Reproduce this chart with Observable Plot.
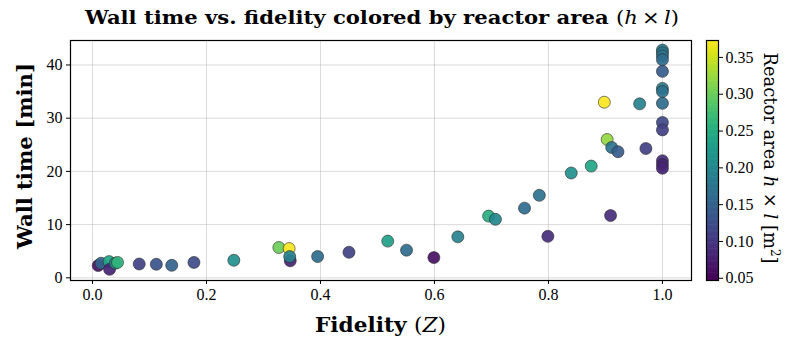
<!DOCTYPE html>
<html><head><meta charset="utf-8">
<script src="https://cdn.jsdelivr.net/npm/d3@7"></script>
<script src="https://cdn.jsdelivr.net/npm/@observablehq/plot@0.6"></script>
<style>
body{margin:0;background:#fff;}
#chart{position:relative;width:797px;height:349px;background:#fff;}
#chart svg{position:absolute;top:0;}
</style></head><body><div id="chart"></div>
<script>
// Data
const fidelity = [0.010,0.015,0.029,0.030,0.040,0.044,0.082,0.112,0.139,0.178,0.248,0.327,0.345,0.347,0.346,0.395,0.450,0.518,0.551,0.599,0.641,0.695,0.707,0.758,0.784,0.799,0.840,0.875,0.898,0.903,0.911,0.922,0.909,0.960,0.971,1.0,1.0,1.0,1.0,1.0,1.0,1.0,1.0,1.0,1.0,1.0,1.0,1.0];
const wallTime = [2.3,2.75,3.05,1.6,2.75,2.9,2.6,2.55,2.35,2.9,3.3,5.7,5.5,3.2,4.0,4.0,4.8,6.9,5.2,3.8,7.7,11.6,11.0,13.1,15.5,7.8,19.7,21.0,33.0,26.0,24.5,23.7,11.7,32.7,24.3,42.8,42.3,41.7,41.0,38.8,35.6,35.0,32.8,29.2,27.8,22.0,21.3,20.6];
const area = [0.06,0.15,0.24,0.08,0.20,0.26,0.11,0.13,0.15,0.12,0.21,0.30,0.37,0.08,0.19,0.16,0.11,0.23,0.16,0.06,0.19,0.25,0.20,0.16,0.17,0.09,0.21,0.24,0.37,0.32,0.17,0.14,0.09,0.19,0.11,0.18,0.18,0.17,0.16,0.14,0.18,0.17,0.16,0.12,0.11,0.09,0.08,0.08];
const xTicks = [0, 0.2, 0.4, 0.6, 0.8, 1.0];
const yTicks = [0, 10, 20, 30, 40];
const cTicks = [0.05, 0.10, 0.15, 0.20, 0.25, 0.30, 0.35];
const colorDomain = [0.047, 0.373];

const data = fidelity.map((f, i) => ({f, t: wallTime[i], a: area[i]}));
const font = "'Liberation Serif', 'DejaVu Serif', serif";
const labelFont = "'DejaVu Serif', 'Liberation Serif', serif";

const main = Plot.plot({
  width: 797, height: 349,
  marginLeft: 70, marginRight: 106, marginTop: 40, marginBottom: 69,
  style: {fontFamily: font, fontSize: "16px", background: "transparent", color: "black"},
  x: {domain: [-0.0386, 1.051], label: null},
  y: {domain: [-0.5, 44.6], label: null},
  color: {type: "linear", scheme: "viridis", domain: colorDomain},
  marks: [
    Plot.gridX(xTicks, {stroke: "#b0b0b0", strokeOpacity: 0.45}),
    Plot.gridY(yTicks, {stroke: "#b0b0b0", strokeOpacity: 0.45}),
    Plot.axisX(xTicks, {tickFormat: ".1f", tickSize: 4, tickPadding: 4, label: null, fontSize: 16}),
    Plot.axisY(yTicks, {tickFormat: "d", tickSize: 4, tickPadding: 4, label: null, fontSize: 16}),
    Plot.dot(data, {x: "f", y: "t", fill: "a", r: 6, stroke: "#2a2a2a", strokeWidth: 0.6, fillOpacity: 0.92}),
    Plot.frame({stroke: "black", strokeWidth: 1.2})
  ]
});

const step = (colorDomain[1] - colorDomain[0]) / 200;
const stops = d3.range(200).map(i => colorDomain[0] + i * step);
const cbar = Plot.plot({
  width: 107, height: 349,
  marginLeft: 16, marginRight: 79, marginTop: 40, marginBottom: 69,
  style: {fontFamily: font, fontSize: "16px", background: "transparent", color: "black"},
  x: {domain: [0, 1], axis: null},
  y: {domain: colorDomain, label: null},
  color: {type: "linear", scheme: "viridis", domain: colorDomain},
  marks: [
    Plot.rect(stops, {x1: d => 0, x2: d => 1, y1: d => d, y2: d => Math.min(d + step * 1.5, colorDomain[1]), fill: d => d}),
    Plot.axisY(cTicks, {anchor: "right", tickFormat: ".2f", tickSize: 4, tickPadding: 3, label: null, fontSize: 16}),
    Plot.frame({stroke: "black", strokeWidth: 1.2})
  ]
});

const host = document.getElementById("chart");
main.style.left = "0px";
cbar.style.left = "690px";
host.appendChild(main);
host.appendChild(cbar);

// Titles and axis labels
const ms = d3.select(main);
const title = ms.append("text")
  .attr("x", 382).attr("y", 24).attr("text-anchor", "middle")
  .attr("textLength", 594).attr("lengthAdjust", "spacingAndGlyphs")
  .attr("font-family", labelFont).attr("font-size", 19).attr("fill", "black");
title.append("tspan").attr("font-weight", "bold").text("Wall time vs. fidelity colored by reactor area ");
title.append("tspan").text("(");
title.append("tspan").attr("font-style", "italic").text("h");
title.append("tspan").text("\u2009×\u2009");
title.append("tspan").attr("font-style", "italic").text("l");
title.append("tspan").text(")");

const xl = ms.append("text")
  .attr("x", 380.5).attr("y", 332).attr("text-anchor", "middle")
  .attr("textLength", 131).attr("lengthAdjust", "spacingAndGlyphs")
  .attr("font-family", labelFont).attr("font-size", 20).attr("fill", "black");
xl.append("tspan").attr("font-weight", "bold").text("Fidelity ");
xl.append("tspan").text("(");
xl.append("tspan").attr("font-style", "italic").text("Z");
xl.append("tspan").text(")");

ms.append("text")
  .attr("transform", "translate(32,156) rotate(-90)").attr("text-anchor", "middle")
  .attr("textLength", 186).attr("lengthAdjust", "spacingAndGlyphs")
  .attr("font-family", labelFont).attr("font-size", 20).attr("font-weight", "bold").attr("fill", "black")
  .text("Wall time [min]");

const cl = d3.select(cbar).append("text")
  .attr("transform", "translate(74,158) rotate(90)").attr("text-anchor", "middle")
  .attr("textLength", 211).attr("lengthAdjust", "spacingAndGlyphs")
  .attr("font-family", labelFont).attr("font-size", 18).attr("fill", "black");
cl.append("tspan").text("Reactor area ");
cl.append("tspan").attr("font-style", "italic").text("h");
cl.append("tspan").text(" × ");
cl.append("tspan").attr("font-style", "italic").text("l");
cl.append("tspan").text(" [m");
cl.append("tspan").attr("dy", -7).attr("font-size", 12).text("2");
cl.append("tspan").attr("dy", 7).text("]");
</script></body></html>
